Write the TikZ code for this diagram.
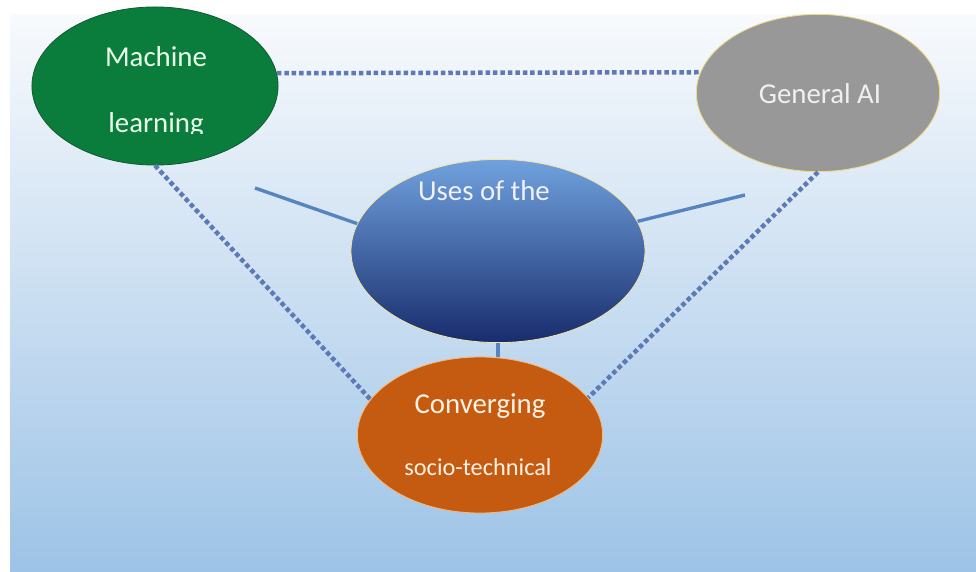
\documentclass[tikz,border=0pt]{standalone}
\usepackage{fontspec}
\setmainfont{Carlito}
\usetikzlibrary{shapes,backgrounds}

\definecolor{bgtop}{RGB}{248,250,253}
\definecolor{bgbot}{RGB}{157,195,230}
\definecolor{mlgreen}{RGB}{10,125,60}
\definecolor{mlline}{RGB}{18,92,50}
\definecolor{aigray}{RGB}{152,152,152}
\definecolor{ailine}{RGB}{240,218,130}
\definecolor{usetop}{RGB}{112,162,222}
\definecolor{usemid}{RGB}{52,118,194}
\definecolor{usebot}{RGB}{24,44,108}
\definecolor{convorange}{RGB}{197,90,17}
\definecolor{convline}{RGB}{246,186,120}
\definecolor{dotblue}{RGB}{92,122,182}
\definecolor{lineblue}{RGB}{86,132,192}

\begin{document}
\begin{tikzpicture}[x=0.025cm,y=-0.025cm,semithick,
    blob/.style={shape=ellipse,inner sep=0pt},
    word/.style={anchor=base,font=\fontsize{20.5}{24}\selectfont},
    smallword/.style={anchor=base,font=\fontsize{17.3}{20}\selectfont},
    dotlink/.style={dotblue,line width=3.2pt,dash pattern=on 3.2pt off 2.1pt},
    link/.style={lineblue,line width=2.4pt}]
  \useasboundingbox (0,0) rectangle (976,572);
  \fill[top color=bgtop,bottom color=bgbot] (10,14) rectangle (976,572);

  \node[blob,fill=mlgreen,draw=mlline,minimum width=6.15cm,minimum height=3.95cm] (ml) at (155,86) {};
  \node[blob,fill=aigray,draw=ailine,minimum width=6.08cm,minimum height=3.93cm] (ai) at (818,93) {};
  \node[blob,top color=usetop,middle color=usemid,bottom color=usebot,draw=ailine!70!white,
        minimum width=7.35cm,minimum height=4.58cm] (use) at (498,251) {};
  \node[blob,fill=convorange,draw=convline,minimum width=6.13cm,minimum height=3.9cm] (conv) at (480,435) {};

  \node[word,text=green!8!white] (mltop) at (156,66) {Machine};
  \begin{scope}
    \clip (0,0) rectangle (976,133);
    \node[word,text=green!8!white] (mlbot) at (156,132) {learning};
  \end{scope}
  \node[word,text=white!94!black] (ailab) at (820,103) {General AI};
  \node[word,text=blue!6!white] (uselab) at (484,200) {Uses of the};
  \node[word,text=orange!10!white] (convtop) at (480,413) {Converging};
  \node[smallword,text=orange!10!white] (convbot) at (478,475) {socio-technical};

  \coordinate (lend) at (255,188);
  \coordinate (rend) at (745,195);

  \draw[dotlink] (ml.6) -- (ai.170);
  \draw[dotlink] (ml.south) -- (conv.162);
  \draw[dotlink] (ai.south) -- (conv.19);
  \draw[link] (lend) -- (use.169);
  \draw[link] (use.12) -- (rend);
  \draw[link] (use.south) -- (use.south |- conv.north);
\end{tikzpicture}
\end{document}
